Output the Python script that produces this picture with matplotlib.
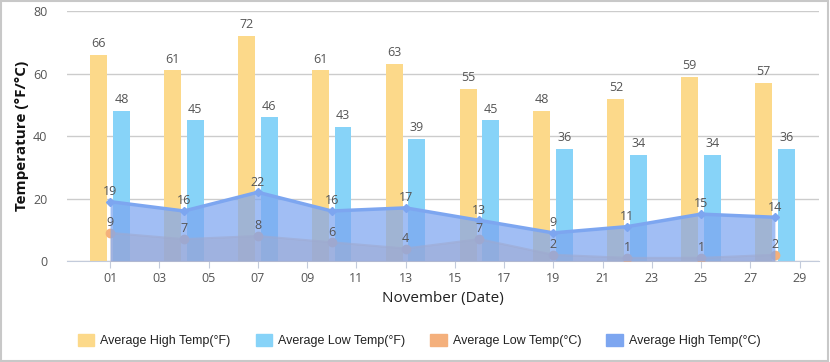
import matplotlib.pyplot as plt
from matplotlib.patches import Patch, Rectangle

days = [1, 4, 7, 10, 13, 16, 19, 22, 25, 28]
high_f = [66, 61, 72, 61, 63, 55, 48, 52, 59, 57]
low_f = [48, 45, 46, 43, 39, 45, 36, 34, 34, 36]
high_c = [19, 16, 22, 16, 17, 13, 9, 11, 15, 14]
low_c = [9, 7, 8, 6, 4, 7, 2, 1, 1, 2]
xticks = list(range(1, 30, 2))

c_hf = '#fcd98a'
c_lf = '#87d3f8'
c_lc = '#f4b07c'
c_hc = '#7da6f0'
txt = '#555555'

plt.rcParams['font.family'] = ['Open Sans', 'DejaVu Sans']

fig = plt.figure(figsize=(8.3, 3.62), dpi=100)
ax = fig.add_axes([0.0807, 0.279, 0.9063, 0.6906])

# bars (°F)
w = 0.69
off = 0.46
xh = [d - off for d in days]
xl = [d + off for d in days]
ax.bar(xh, high_f, width=w, color=c_hf, zorder=2)
ax.bar(xl, low_f, width=w, color=c_lf, zorder=2)
for x, v in zip(xh, high_f):
    ax.text(x, v + 1.5, str(v), ha='center', va='bottom', fontsize=9, color=txt, zorder=6)
for x, v in zip(xl, low_f):
    ax.text(x, v + 1.5, str(v), ha='center', va='bottom', fontsize=9, color=txt, zorder=6)

# areas (°C)
ax.fill_between(days, low_c, 0, color=c_lc, alpha=0.55, lw=0, zorder=3)
ax.plot(days, low_c, color=c_lc, lw=1.5, alpha=0.6, zorder=3)
ax.plot(days, low_c, 'o', color=c_lc, ms=6, zorder=3)
ax.fill_between(days, high_c, 0, color=c_hc, alpha=0.72, lw=0, zorder=4)
ax.plot(days, high_c, color=c_hc, lw=2.5, marker='D', ms=4, zorder=5)
for x, v in zip(days, high_c):
    ax.text(x, v + 1.2, str(v), ha='center', va='bottom', fontsize=9, color=txt, zorder=6)
for x, v in zip(days, low_c):
    ax.text(x, v + 1.2, str(v), ha='center', va='bottom', fontsize=9, color=txt, zorder=6)

ax.set_xlim(-0.75, 29.8)
ax.set_ylim(0, 80)
ax.set_yticks([0, 20, 40, 60, 80])
ax.set_xticks(xticks)
ax.set_xticklabels(['%02d' % d for d in xticks])
ax.grid(axis='y', color='#cccccc', lw=1, zorder=0)
ax.set_axisbelow(True)
for s in ['top', 'right', 'left']:
    ax.spines[s].set_visible(False)
ax.spines['bottom'].set_color('#c3cbdb')
ax.tick_params(axis='y', length=0, pad=14, labelsize=9, labelcolor=txt)
ax.tick_params(axis='x', length=5, color='#c3cbdb', pad=3, labelsize=9, labelcolor=txt)

ax.set_ylabel('Temperature (°F/°C)', fontsize=11, fontweight='bold', color='#111111', labelpad=3)
ax.set_xlabel('November (Date)', fontsize=11, color='#222222', labelpad=4)

handles = [Patch(color=c_hf), Patch(color=c_lf), Patch(color=c_lc), Patch(color=c_hc)]
labels = ['Average High Temp(°F)', 'Average Low Temp(°F)', 'Average Low Temp(°C)', 'Average High Temp(°C)']
fig.legend(handles, labels, loc='center', bbox_to_anchor=(0.505, 0.06), ncol=4, frameon=False,
           prop={'family': 'Liberation Sans', 'size': 9}, handlelength=1.3, handleheight=1.1,
           columnspacing=2.0, handletextpad=0.5, labelcolor='#222222')

fig.add_artist(Rectangle((0.001, 0.002), 0.997, 0.995, transform=fig.transFigure,
                         fill=False, edgecolor='#c8c8c8', lw=1.5))

fig.savefig('out.png', dpi=100)
